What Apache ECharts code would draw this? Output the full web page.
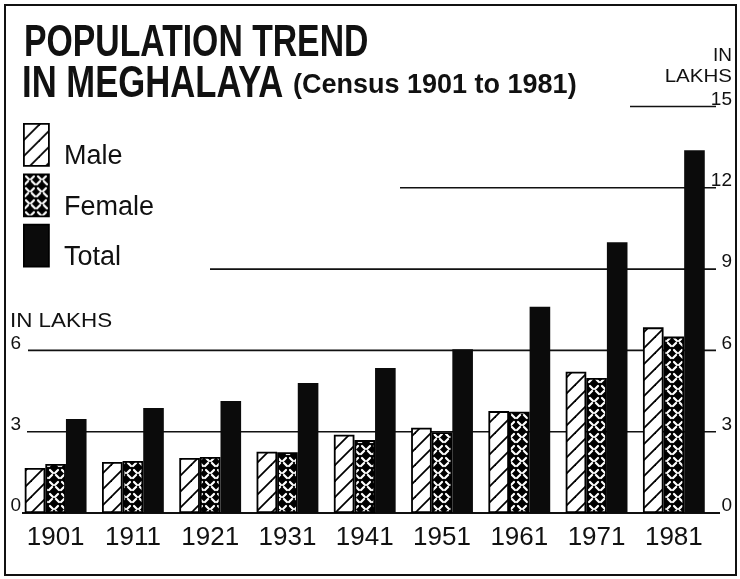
<!DOCTYPE html>
<html><head><meta charset="utf-8">
<script src="https://cdn.jsdelivr.net/npm/echarts@6/dist/echarts.min.js"></script>
<style>html,body{margin:0;padding:0;background:#fff}#c{width:740px;height:579px}</style>
</head><body><div id="c"></div>
<script>
// ---- data (lakhs) ----
const years = ['1901','1911','1921','1931','1941','1951','1961','1971','1981'];
const male = [1.66, 1.88, 2.03, 2.26, 2.89, 3.15, 3.76, 5.21, 6.85];
const female = [1.81, 1.92, 2.07, 2.24, 2.69, 2.98, 3.74, 4.98, 6.51];
const total = [3.47, 3.87, 4.13, 4.80, 5.35, 6.04, 7.61, 9.99, 13.39];
const leftTicks = [0, 3, 6];
const rightTicks = [0, 3, 6, 9, 12, 15];
const gridLevels = [3, 6, 9, 12, 15];

// ---- styles ----
const INK = '#111';
const lineStartX = {3: 27, 6: 28, 9: 210, 12: 400, 15: 630};
const lineEndX = 716;

function malePattern() {
  const c = document.createElement('canvas'); c.width = 16; c.height = 16;
  const g = c.getContext('2d');
  g.fillStyle = '#fff'; g.fillRect(0, 0, 16, 16);
  g.strokeStyle = '#000'; g.lineWidth = 1.8;
  for (const k of [-16, 0, 16]) { g.beginPath(); g.moveTo(k - 1, 17); g.lineTo(k + 17, -1); g.stroke(); }
  return c;
}
function femalePattern() {
  const c = document.createElement('canvas'); c.width = 12; c.height = 12;
  const g = c.getContext('2d');
  g.fillStyle = '#000'; g.fillRect(0, 0, 12, 12);
  g.strokeStyle = '#fff'; g.lineWidth = 2.2; g.lineCap = 'round';
  const segs = [[2,2,5,5],[7,5,10,2],[1,10,4,7],[8,7,11,10]];
  for (const s of segs) { g.beginPath(); g.moveTo(s[0], s[1]); g.lineTo(s[2], s[3]); g.stroke(); }
  return c;
}

const chart = echarts.init(document.getElementById('c'), null, {renderer: 'canvas'});
const barBase = {type: 'bar', barGap: '0%', barCategoryGap: '20%', yAxisIndex: 0, emphasis: {disabled: true}};

const option = {
  animation: false,
  backgroundColor: '#fff',
  grid: {left: 17, right: 27.5, top: 106.5, bottom: 66, containLabel: false},
  legend: {
    data: ['Male', 'Female', 'Total'], orient: 'vertical', left: 18, top: 118,
    itemWidth: 25, itemHeight: 42, itemGap: 3, icon: 'rect', selectedMode: false,
    itemStyle: {borderColor: '#000', borderWidth: 1.8},
    formatter: name => '{t|' + name + '}',
    textStyle: {fontSize: 27, fontFamily: '"Liberation Sans", Arial, sans-serif', color: INK,
      rich: {t: {fontSize: 27, fontFamily: '"Liberation Sans", Arial, sans-serif', color: INK, padding: [24, 0, 0, 10]}}}
  },
  xAxis: {
    type: 'category', data: years,
    axisLine: {show: false}, axisTick: {show: false}, splitLine: {show: false},
    axisLabel: {interval: 0, fontSize: 26, fontFamily: '"Liberation Sans", Arial, sans-serif', color: INK, margin: 12}
  },
  yAxis: [
    {type: 'value', min: 0, max: 15, interval: 3, position: 'left',
     axisLine: {show: false}, axisTick: {show: false}, splitLine: {show: false},
     axisLabel: {fontSize: 19, lineHeight: 14, fontFamily: '"Liberation Sans", sans-serif', color: INK, margin: -4, align: 'right', verticalAlign: 'bottom',
       formatter: v => leftTicks.includes(v) ? String(v) : ''}},
    {type: 'value', min: 0, max: 15, interval: 3, position: 'right',
     axisLine: {show: false}, axisTick: {show: false}, splitLine: {show: false},
     axisLabel: {fontSize: 19, lineHeight: 14, fontFamily: '"Liberation Sans", sans-serif', color: INK, margin: 19.5, align: 'right', verticalAlign: 'bottom',
       formatter: v => rightTicks.includes(v) ? String(v) : ''}}
  ],
  series: [
    Object.assign({}, barBase, {name: 'Male', data: male,
      itemStyle: {color: {image: malePattern(), repeat: 'repeat'}, borderColor: '#000', borderWidth: 1.8}}),
    Object.assign({}, barBase, {name: 'Female', data: female,
      itemStyle: {color: {image: femalePattern(), repeat: 'repeat'}, borderColor: '#000', borderWidth: 1.8}}),
    Object.assign({}, barBase, {name: 'Total', data: total,
      itemStyle: {color: '#0b0b0b', borderColor: '#0b0b0b', borderWidth: 0}})
  ]
};
chart.setOption(option);

// decorative frame, titles and partial grid lines
const els = [];
els.push({type: 'rect', shape: {x: 5, y: 5, width: 731, height: 570}, style: {fill: 'none', stroke: INK, lineWidth: 2}, z: 0});
els.push({type: 'text', x: 24, y: 43.5, scaleX: 0.75, style: {text: 'POPULATION TREND', font: 'bold 45px "Liberation Sans", Arial, sans-serif', fill: INK, verticalAlign: 'middle'}});
els.push({type: 'text', x: 22, y: 85, scaleX: 0.77, style: {text: 'IN MEGHALAYA', font: 'bold 45px "Liberation Sans", Arial, sans-serif', fill: INK, verticalAlign: 'middle'}});
els.push({type: 'text', x: 293, y: 86, style: {text: '(Census 1901 to 1981)', font: 'bold 27px "Liberation Sans", Arial, sans-serif', fill: INK, verticalAlign: 'middle'}});
els.push({type: 'text', x: 10, y: 321, scaleX: 1.12, style: {text: 'IN LAKHS', font: '20px "Liberation Sans", Arial, sans-serif', fill: INK, verticalAlign: 'middle'}});
els.push({type: 'text', x: 732, y: 56, style: {text: 'IN', font: '19px "Liberation Sans", Arial, sans-serif', fill: INK, align: 'right', verticalAlign: 'middle'}});
els.push({type: 'text', x: 732, y: 77, scaleX: 1.08, style: {text: 'LAKHS', font: '19px "Liberation Sans", Arial, sans-serif', fill: INK, align: 'right', verticalAlign: 'middle'}});
const y0 = chart.convertToPixel({yAxisIndex: 0}, 0);
els.push({type: 'line', shape: {x1: 22, y1: y0, x2: 720, y2: y0}, style: {stroke: INK, lineWidth: 2}});
for (const lv of gridLevels) {
  const y = chart.convertToPixel({yAxisIndex: 0}, lv);
  els.push({type: 'line', shape: {x1: lineStartX[lv], y1: y, x2: lineEndX, y2: y}, style: {stroke: INK, lineWidth: 1.6}});
}
chart.setOption({graphic: {elements: els}});
</script></body></html>
